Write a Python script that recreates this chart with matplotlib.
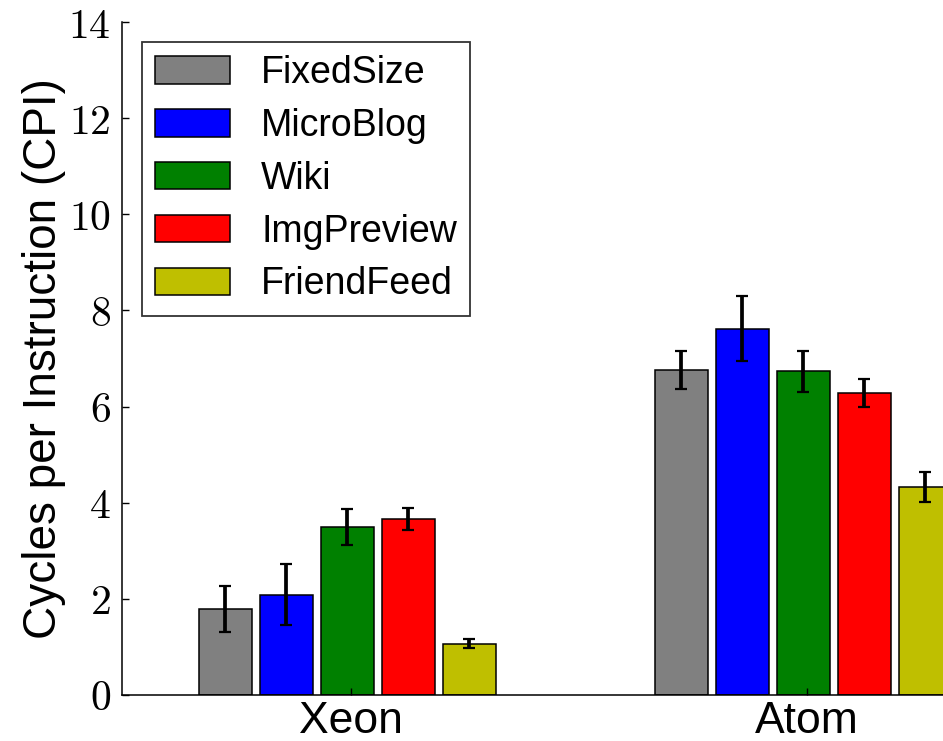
import matplotlib
matplotlib.use("Agg")
import matplotlib.pyplot as plt
import numpy as np

plt.rcParams['font.family'] = ['Liberation Sans', 'DejaVu Sans']
plt.rcParams['mathtext.fontset'] = 'cm'

groups = ["Xeon", "Atom"]
series = ["FixedSize", "MicroBlog", "Wiki", "ImgPreview", "FriendFeed"]
values = {
    "FixedSize":  [1.79, 6.76],
    "MicroBlog":  [2.09, 7.62],
    "Wiki":       [3.49, 6.73],
    "ImgPreview": [3.66, 6.28],
    "FriendFeed": [1.07, 4.33],
}
errors = {
    "FixedSize":  [0.47, 0.39],
    "MicroBlog":  [0.63, 0.67],
    "Wiki":       [0.37, 0.42],
    "ImgPreview": [0.23, 0.29],
    "FriendFeed": [0.10, 0.31],
}
yticks = [0, 2, 4, 6, 8, 10, 12, 14]

colors = ["#808080", "#0000ff", "#008000", "#ff0000", "#bfbf00"]

W, H = 943, 741
fig = plt.figure(figsize=(W / 100, H / 100), dpi=100)
ax = fig.add_axes([122 / W, (H - 695) / H, 912.6 / W, 673 / H])

ind = np.arange(len(groups))
step = 0.1337
width = 0.116
first = -0.275
for i, s in enumerate(series):
    ax.bar(ind + first + i * step, values[s], width, color=colors[i],
           edgecolor="black", linewidth=1.1, label=s,
           yerr=errors[s], error_kw=dict(ecolor="black", elinewidth=2.7,
                                         capsize=4.6, capthick=1.6))

ax.set_xlim(-0.502, 1.5)
ax.set_ylim(0, 14)
ax.set_yticks(yticks)
ax.set_yticklabels([f"${v}$" for v in yticks], fontsize=30)
ax.set_xticks(ind)
ax.set_xticklabels(groups, fontsize=32)
ax.tick_params(axis="both", direction="in", length=5, width=1, top=False,
               right=True)
ax.tick_params(axis="y", pad=8)
ax.tick_params(axis="x", pad=4)
ax.spines["top"].set_visible(False)
for sp in ["left", "bottom", "right"]:
    ax.spines[sp].set_linewidth(1.1)
ax.set_ylabel("Cycles per Instruction (CPI)", fontsize=33, labelpad=1.5)

leg = ax.legend(loc="upper left", fontsize=27, fancybox=False,
                borderaxespad=0.53, handlelength=2.0, handleheight=0.75,
                handletextpad=0.83, labelspacing=0.45, borderpad=0.35)
leg.get_frame().set_edgecolor("black")
leg.get_frame().set_linewidth(1.3)

fig.savefig("out.png", dpi=100)
